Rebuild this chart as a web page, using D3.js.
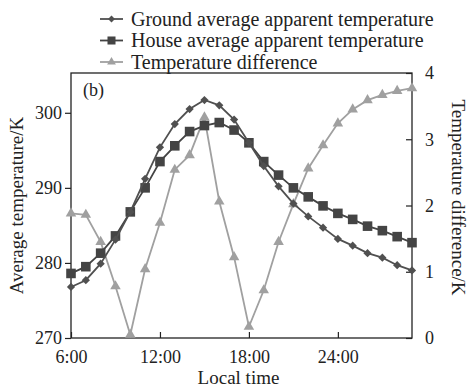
<!DOCTYPE html>
<html>
<head>
<meta charset="utf-8">
<script src="https://cdn.jsdelivr.net/npm/d3@7"></script>
<style>
  body { margin: 0; background: #fff; }
  svg { display: block; font-family: "Liberation Serif", "DejaVu Serif", serif; }
</style>
</head>
<body>
<svg class="chart" width="470" height="387"></svg>
<script>
// hourly values, 6:00 to 29:00 (5:00 next day)
const hours = d3.range(6, 30);
const ground = [276.8, 277.7, 279.9, 283.1, 286.8, 291.2, 295.4, 298.5, 300.5, 301.7, 301.0, 299.1,
  296.0, 292.9, 290.2, 287.9, 286.2, 284.7, 283.2, 282.3, 281.3, 280.7, 279.7, 279.0];
const house = [278.6, 279.5, 281.3, 283.6, 286.8, 290.0, 293.5, 295.6, 297.5, 298.3, 298.7, 297.7,
  296.0, 293.5, 291.7, 290.0, 288.8, 287.6, 286.6, 285.8, 284.9, 284.3, 283.5, 282.7];
const diff = [1.88, 1.86, 1.45, 0.78, 0.05, 1.04, 1.74, 2.54, 2.76, 3.33, 2.06, 1.22,
  0.17, 0.72, 1.45, 2.02, 2.56, 2.91, 3.24, 3.45, 3.59, 3.67, 3.73, 3.77];

const xTicks = [6, 12, 18, 24];
const xTickLabels = ['6:00', '12:00', '18:00', '24:00'];
const leftTicks = [270, 280, 290, 300];
const rightTicks = [0, 1, 2, 3, 4];
const seriesNames = ['Ground average apparent temperature', 'House average apparent temperature', 'Temperature difference'];

const svg = d3.select('svg.chart');
const margin = { top: 73, right: 58, bottom: 49, left: 71 };
const width = 470 - margin.left - margin.right,
  height = 387 - margin.top - margin.bottom;

const x = d3.scaleLinear().domain([6, 29]).range([0, width]);
const yL = d3.scaleLinear().domain([270, 305.3]).range([height, 0]);
const yR = d3.scaleLinear().domain([0, 4]).range([height, 0]);

const g = svg.append('g').attr('transform', `translate(${margin.left},${margin.top})`);

// frame
g.append('rect')
  .attr('width', width).attr('height', height)
  .attr('fill', 'none').attr('stroke', '#222').attr('stroke-width', 1.3);

const styleAxis = (sel) => {
  sel.select('.domain').remove();
  sel.selectAll('line').attr('stroke', '#222').attr('stroke-width', 1.2);
  sel.selectAll('text').attr('fill', '#222').attr('font-size', 18)
    .attr('font-family', '"Liberation Serif", serif');
};

g.append('g')
  .attr('transform', `translate(0,${height})`)
  .call(d3.axisBottom(x).tickValues(xTicks).tickSize(-6).tickPadding(12)
    .tickFormat((d, i) => xTickLabels[i]))
  .call(styleAxis);

g.append('g')
  .call(d3.axisLeft(yL).tickValues(leftTicks).tickSize(6).tickPadding(3).tickFormat(d3.format('d')))
  .call(styleAxis);

g.append('g')
  .attr('transform', `translate(${width},0)`)
  .call(d3.axisRight(yR).tickValues(rightTicks).tickSize(-6).tickPadding(13).tickFormat(d3.format('d')))
  .call(styleAxis);

// diamond = square turned 45 degrees
const series = [
  { name: seriesNames[0], values: ground, y: yL, color: '#505050', marker: d3.symbolSquare, size: 34, rot: 45 },
  { name: seriesNames[1], values: house, y: yL, color: '#444444', marker: d3.symbolSquare, size: 92, rot: 0 },
  { name: seriesNames[2], values: diff, y: yR, color: '#a0a0a0', marker: d3.symbolTriangle, size: 48, rot: 0 }
];

// draw lighter series first so the dark ones sit on top
[series[2], series[1], series[0]].forEach((s) => {
  const line = d3.line()
    .x((d, i) => x(hours[i]))
    .y((d) => s.y(d));

  g.append('path')
    .datum(s.values)
    .attr('d', line)
    .attr('fill', 'none')
    .attr('stroke', s.color)
    .attr('stroke-width', 1.8);

  g.selectAll(null)
    .data(s.values)
    .enter().append('path')
    .attr('transform', (d, i) => `translate(${x(hours[i])},${s.y(d)}) rotate(${s.rot})`)
    .attr('d', d3.symbol().type(s.marker).size(s.size))
    .attr('fill', s.color);
});

// panel label
g.append('text')
  .attr('x', 12).attr('y', 23)
  .attr('font-size', 18).attr('fill', '#222')
  .text('(b)');

// axis titles
svg.append('text')
  .attr('transform', `translate(23,${margin.top + height / 2}) rotate(-90)`)
  .attr('text-anchor', 'middle')
  .attr('font-size', 19).attr('fill', '#222')
  .text('Average temperature/K');

svg.append('text')
  .attr('transform', `translate(452,${margin.top + height / 2 - 8}) rotate(90)`)
  .attr('text-anchor', 'middle')
  .attr('font-size', 19).attr('fill', '#222')
  .text('Temperature difference/K');

svg.append('text')
  .attr('x', margin.left + width / 2 - 3).attr('y', 384)
  .attr('text-anchor', 'middle')
  .attr('font-size', 19).attr('fill', '#222')
  .text('Local time');

// legend
const legend = svg.append('g').attr('transform', 'translate(100,19)');
series.forEach((s, i) => {
  const row = legend.append('g').attr('transform', `translate(0,${i * 21.5})`);
  row.append('line')
    .attr('x1', 0).attr('x2', 23)
    .attr('stroke', s.color).attr('stroke-width', 1.8);
  row.append('path')
    .attr('transform', `translate(11.5,0) rotate(${s.rot})`)
    .attr('d', d3.symbol().type(s.marker).size(s.size * 0.7))
    .attr('fill', s.color);
  row.append('text')
    .attr('x', 31).attr('dy', '0.33em')
    .attr('font-size', 20).attr('fill', '#222')
    .text(s.name);
});
</script>
</body>
</html>
